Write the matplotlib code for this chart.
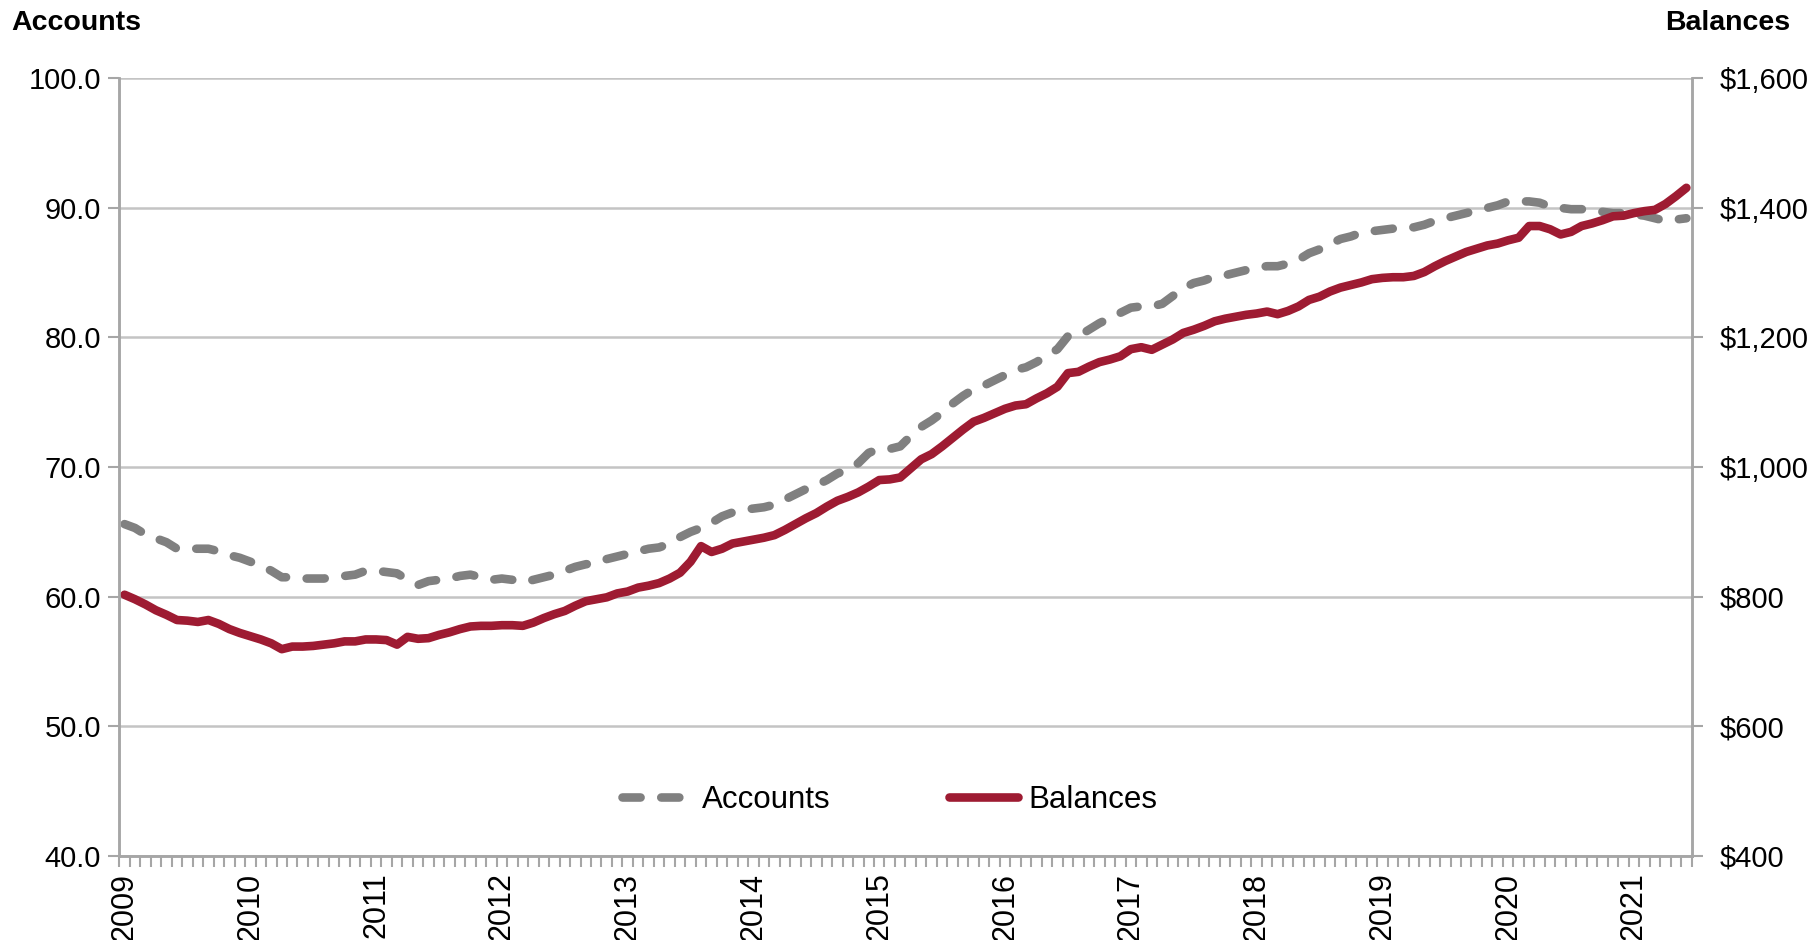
import matplotlib
matplotlib.use('Agg')
import matplotlib.pyplot as plt
from matplotlib.ticker import FuncFormatter
import numpy as np
import pandas as pd

# monthly observations, Jan 2009 - Jun 2021
months = pd.date_range('2009-01-01', '2021-06-01', freq='MS')

# accounts (left axis)
accounts = [
    65.6, 65.3, 64.8, 64.5, 64.2, 63.7, 63.7, 63.7, 63.7, 63.5, 63.2, 63.0,
    62.7, 62.4, 62.0, 61.5, 61.5, 61.4, 61.4, 61.4, 61.5, 61.6, 61.7, 62.0,
    62.0, 61.9, 61.8, 61.3, 60.9, 61.2, 61.3, 61.4, 61.6, 61.7, 61.5, 61.3,
    61.4, 61.3, 61.1, 61.3, 61.5, 61.7, 62.0, 62.3, 62.5, 62.6, 62.9, 63.1,
    63.3, 63.5, 63.7, 63.8, 64.1, 64.6, 65.0, 65.3, 65.7, 66.2, 66.5, 66.7,
    66.8, 66.9, 67.1, 67.5, 67.9, 68.3, 68.6, 69.0, 69.5, 69.8, 70.3, 71.1,
    71.4, 71.4, 71.6, 72.4, 73.1, 73.6, 74.2, 74.9, 75.5, 76.0, 76.3, 76.7,
    77.1, 77.5, 77.7, 78.1, 78.6, 79.1, 80.1, 80.1, 80.6, 81.1, 81.5, 81.9,
    82.3, 82.4, 82.4, 82.6, 83.2, 83.8, 84.2, 84.4, 84.7, 84.8, 85.0, 85.2,
    85.4, 85.5, 85.5, 85.7, 86.0, 86.5, 86.8, 87.2, 87.6, 87.8, 88.1, 88.2,
    88.3, 88.4, 88.5, 88.5, 88.7, 89.0, 89.2, 89.4, 89.6, 89.8, 90.0, 90.2,
    90.5, 90.5, 90.5, 90.4, 90.1, 90.0, 89.9, 89.9, 89.8, 89.7, 89.6, 89.6,
    89.5, 89.4, 89.2, 89.0, 89.1, 89.2,
]

# balances in dollars (right axis)
balances = [
    803, 796, 788, 779, 772, 764, 763, 761, 764, 758, 750, 744,
    739, 734, 728, 719, 723, 723, 724, 726, 728, 731, 731, 734,
    734, 733, 726, 738, 735, 736, 741, 745, 750, 754, 755, 755,
    756, 756, 755, 760, 767, 773, 778, 786, 793, 796, 799, 805,
    808, 814, 817, 821, 828, 837, 854, 878, 869, 874, 882, 885,
    888, 891, 895, 903, 912, 921, 929, 939, 948, 954, 961, 970,
    980, 981, 984, 998, 1012, 1020, 1032, 1045, 1058, 1070, 1076, 1083,
    1090, 1095, 1097, 1106, 1114, 1124, 1145, 1147, 1155, 1162, 1166, 1171,
    1182, 1185, 1181, 1189, 1197, 1207, 1212, 1218, 1225, 1229, 1232, 1235,
    1237, 1240, 1236, 1241, 1248, 1258, 1263, 1271, 1277, 1281, 1285, 1290,
    1292, 1293, 1293, 1295, 1301, 1310, 1318, 1325, 1332, 1337, 1342, 1345,
    1350, 1354, 1372, 1372, 1367, 1359, 1363, 1372, 1376, 1381, 1387, 1388,
    1392, 1395, 1397, 1406, 1418, 1431,
]

acc_ticks = [40, 50, 60, 70, 80, 90, 100]
bal_ticks = [400, 600, 800, 1000, 1200, 1400, 1600]

plt.rcParams['font.family'] = ['Liberation Sans', 'DejaVu Sans']

GRAY = '#808080'
RED = '#9E1B32'
AXIS = '#A6A6A6'
GRID = '#C4C4C4'

fig = plt.figure(figsize=(18.1, 9.4), dpi=100)
fig.subplots_adjust(left=0.0659, right=0.9346, top=0.9167, bottom=0.0895)
ax = fig.add_subplot(111)
ax2 = ax.twinx()

x = np.arange(len(months))
l1, = ax.plot(x, accounts, color=GRAY, lw=6.2, linestyle=(0, (2.1, 2.4)),
              dash_capstyle='round', dash_joinstyle='round', label='Accounts')
l2, = ax2.plot(x, balances, color=RED, lw=6.2, solid_capstyle='round',
               solid_joinstyle='round', label='Balances')

# x axis: month categories, year labels
ax.set_xlim(-0.5, len(months) - 0.5)
year_pos = [i for i, m in enumerate(months) if m.month == 1]
ax.set_xticks(year_pos)
ax.set_xticklabels([str(months[i].year) for i in year_pos], rotation=90, fontsize=22)
ax.set_xticks(np.arange(-0.5, len(months), 1), minor=True)
ax.tick_params(axis='x', which='major', length=0, pad=12)
ax.tick_params(axis='x', which='minor', length=8, width=1.5, color=AXIS)

# left axis
ax.set_ylim(40, 100)
ax.set_yticks(acc_ticks)
ax.yaxis.set_major_formatter(FuncFormatter(lambda v, p: f'{v:.1f}'))
ax.tick_params(axis='y', length=8, width=1.5, color=AXIS, labelsize=21, pad=5)
ax.grid(axis='y', color=GRID, lw=1.8)
ax.set_axisbelow(True)

# right axis
ax2.set_ylim(400, 1600)
ax2.set_yticks(bal_ticks)
ax2.yaxis.set_major_formatter(FuncFormatter(lambda v, p: f'${v:,.0f}'))
ax2.tick_params(axis='y', length=8, width=1.5, color=AXIS, labelsize=21, pad=12)

for a in (ax, ax2):
    a.spines['top'].set_visible(False)
    for s in ('left', 'right', 'bottom'):
        a.spines[s].set_color(AXIS)
        a.spines[s].set_linewidth(1.8)

fig.text(0.006, 0.976, 'Accounts', fontsize=20.5, fontweight='bold', va='center', ha='left')
fig.text(0.989, 0.976, 'Balances', fontsize=20.5, fontweight='bold', va='center', ha='right')

ax.legend([l1, l2], ['Accounts', 'Balances'], loc='center', bbox_to_anchor=(0.49, 0.072),
          ncol=2, frameon=False, fontsize=22.5, handlelength=2.2, handletextpad=0.35,
          columnspacing=3.8)

plt.savefig('out.png', dpi=100)
